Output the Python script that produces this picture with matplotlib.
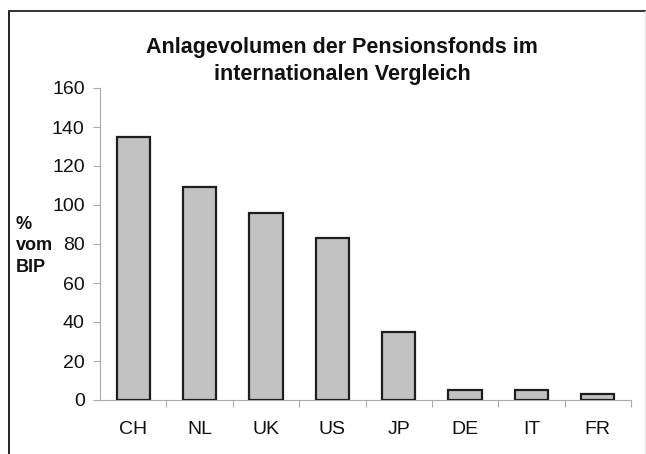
import matplotlib.pyplot as plt
from matplotlib.lines import Line2D

countries = ["CH", "NL", "UK", "US", "JP", "DE", "IT", "FR"]
share_gdp = [135, 109, 96, 83, 35, 5, 5, 3]
yticks = [0, 20, 40, 60, 80, 100, 120, 140, 160]

W, H = 646, 454
fig = plt.figure(figsize=(W / 100, H / 100), dpi=100)
ax = fig.add_axes([100 / W, 1 - 400 / H, 531 / W, 312 / H])

x = range(len(countries))
ax.bar(x, share_gdp, width=0.5, color="#c2c2c2", edgecolor="#1e1e1e", linewidth=1.6, zorder=3)

ax.set_xlim(-0.5, len(countries) - 0.5)
ax.set_ylim(0, 160)
ax.set_yticks(yticks)
ax.set_yticklabels([str(v) for v in yticks])

# x ticks sit between the categories, labels centred under the bars
ax.set_xticks([i + 0.5 for i in range(len(countries))])
ax.set_xticklabels([])
ax.set_xticks(list(x), minor=True)
ax.set_xticklabels(countries, minor=True)
ax.tick_params(axis="x", which="minor", length=0, pad=15, labelsize=14)
ax.tick_params(axis="x", which="major", length=5, color="#aaaaaa", width=0.8)
ax.tick_params(axis="y", length=5, color="#aaaaaa", width=0.8, pad=6, labelsize=14)

for side in ["top", "right"]:
    ax.spines[side].set_visible(False)
for side in ["left", "bottom"]:
    ax.spines[side].set_color("#aaaaaa")
    ax.spines[side].set_linewidth(0.8)

for lab in ax.get_xticklabels(minor=True) + ax.get_yticklabels():
    lab.set_fontfamily(["Liberation Sans", "DejaVu Sans"])
    lab.set_color("#111111")

fig.text(342 / W, 1 - 61 / H, "Anlagevolumen der Pensionsfonds im\ninternationalen Vergleich",
         ha="center", va="center", fontsize=15.5, fontweight="bold",
         family=["Liberation Sans Narrow", "Liberation Sans", "DejaVu Sans"],
         linespacing=1.38, color="#111111")

fig.text(16 / W, 1 - 246 / H, "%\nvom\nBIP", ha="left", va="center",
         fontsize=13, fontweight="bold", linespacing=1.36,
         family=["Liberation Sans", "DejaVu Sans"], color="#111111")

# outer frame of the scanned chart
fig.add_artist(Line2D([9 / W, 9 / W], [0, 1 - 11 / H], transform=fig.transFigure, color="#222222", lw=1.4))
fig.add_artist(Line2D([9 / W, 1], [1 - 11 / H, 1 - 11 / H], transform=fig.transFigure, color="#333333", lw=1.4))
fig.add_artist(Line2D([645 / W, 645 / W], [0, 1 - 11 / H], transform=fig.transFigure, color="#e4e4e4", lw=0.8))

fig.savefig("out.png", dpi=100)
